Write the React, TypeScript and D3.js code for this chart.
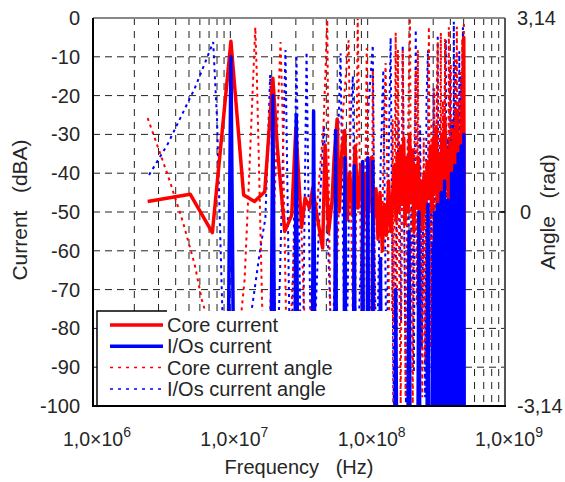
import { useEffect, useRef } from "react";
import * as d3 from "d3";

// frequency in MHz, current in dBA
const coreCurrent: [number, number][] = [
  [2.5, -47.3], [5.1, -45.4], [7.4, -55.3], [10.1, -6], [12.5, -45.6], [15, -47.3],
  [17.8, -44.8], [20.4, -15.5], [22, -33.5], [24.9, -55], [28, -50.8], [30, -28.4],
  [33, -54], [35, -46.4], [37.7, -49], [39.8, -43.8], [43, -51.5], [47, -59.3],
  [49, -32.7], [52, -55], [55, -47.3], [57, -36], [60, -26], [62, -50], [65, -34],
  [68, -29], [71, -52], [74, -40], [78, -51], [81, -33], [85, -49], [89, -38],
  [93, -54], [97, -40], [102, -50], [106, -36], [110, -52], [115, -44], [119, -57],
  [123, -45], [128, -60], [132, -48], [137, -56], [142, -42], [147, -55], [152, -46],
  [157, -38], [161, -52], [165, -35], [169, -50], [174, -33], [178, -48], [183, -31],
  [187, -53], [192, -36], [197, -50], [202, -30], [207, -47], [212, -34], [217, -55],
  [222, -38], [228, -49], [234, -36], [240, -52], [246, -42], [252, -54], [258, -40],
  [265, -50], [272, -37], [279, -46], [286, -33], [293, -50], [300, -31], [307, -45],
  [315, -28], [323, -48], [331, -35], [339, -52], [347, -30], [356, -47], [365, -26],
  [374, -44], [383, -34], [392, -55], [402, -32], [412, -48], [422, -29], [432, -45],
  [443, -24], [454, -42], [465, -30], [476, -46], [488, -22], [497, -40], [501, -5],
  [504, -60],
];

// deep nulls fall below the -100 dBA floor
const ioCurrent: [number, number][] = [
  [9.5, -115], [10.1, -10], [10.7, -115],
  [19.6, -115], [20.4, -20], [21.2, -115],
  [29.3, -115], [30.2, -25], [31.1, -115],
  [39.3, -115], [40.4, -24], [41.5, -115],
  [57.3, -115], [58.4, -29], [59.5, -115],
  [67.1, -115], [68.3, -36], [69.5, -115],
  [78.5, -115], [79.8, -38], [81.1, -115],
  [90.6, -115], [92, -37], [93.4, -115],
  [98.8, -115], [100.3, -36], [101.8, -115],
  [107.5, -115], [109, -37], [110.5, -115],
  [122, -115], [124, -62], [126, -115],
  [157, -115], [160, -70], [163, -115],
  [196, -115], [200, -55], [204, -115],
  [232, -115], [236, -50], [240, -115],
  [270, -115], [275, -48], [280, -115],
  [296, -115], [300, -58], [304, -115], [308, -50], [312, -115], [316, -62],
  [320, -115], [324, -48], [328, -115], [333, -56], [338, -115], [343, -45],
  [348, -115], [353, -60], [358, -115], [363, -42], [368, -115], [373, -55],
  [378, -115], [384, -47], [390, -115], [396, -58], [402, -115], [408, -40],
  [414, -115], [420, -52], [426, -115], [432, -38], [438, -115], [444, -50],
  [450, -115], [456, -35], [462, -115], [468, -48], [474, -115], [480, -33],
  [486, -115], [492, -45], [498, -115], [502, -30], [505, -115],
];

// frequency in MHz, angle in rad
const coreAngle: [number, number][] = [
  [2.5, 1.52], [3.5, 0.6], [4.5, -0.15], [5.5, -0.85], [6.2, -1.42], [7.4, -2.0],
  [8.7, -2.6], [9.6, -3.05], [10.6, -2.5], [11.7, -1.9], [12.7, -1.1], [13.6, 0.4],
  [14.5, 1.9], [15.2, 2.99], [15.6, 2.2], [16.3, 0.4], [17.0, -1.4], [17.8, -3.0],
  [19.0, -2.2], [20.5, -0.4], [21.8, 1.2], [23.2, 2.75], [24.0, 1.6], [24.8, -0.3],
  [25.5, -1.8], [26.2, -3.0], [27.5, -1.9], [29, -0.6], [30.8, 0.9], [32.4, 0.2],
  [34, -1.2], [36, -2.7], [38.5, -1.6], [41.7, -0.2], [45.4, 0.8], [47.7, 1.4],
  [50.8, 3.11], [52, 0.5], [53.7, -2.0], [55, -3.1], [58.4, -1.5], [62, 0.2],
  [66, 1.6], [72.7, 2.78], [75, 0.6], [78, -1.7], [80, -3.1], [82, -0.5],
  [84.6, 3.14], [87, 1.2], [90, -1.5], [92, -3.1], [95, -0.8], [98.4, 2.65],
  [101, 0.8], [104, -1.6], [106, -3.1], [109, 2.3], [112, -0.5], [114, -3.0],
  [124, -1.5], [135, 2.41], [140, 0.2], [145, -2.5], [150, -3.1], [152, 1.5],
  [155, -1.8], [160, 2.9], [163, -2.0], [166, 2.62], [170, -1.0], [174, -3.1],
  [180, 2.62], [185, -0.5], [189, -3.0], [196, 1.0], [203, 3.14], [208, -1.0],
  [213, -3.1], [218, 0.8], [224, 2.3], [228, -1.5], [232, 2.62], [238, -2.8],
  [244, 0.5], [250, -3.0], [256, 1.2], [262, -2.4], [268, 0.8], [273, -3.1],
  [279, 3.0], [285, -2.2], [291, 1.5], [298, -3.0], [305, 2.0], [311, -1.5],
  [317, 1.0], [324, 2.75], [330, -2.5], [336, 0.5], [341, 2.9], [347, -3.0],
  [353, 1.8], [360, -1.5], [366, 2.8], [371, -2.6], [377, 0.8], [383, -3.0],
  [390, 2.99], [396, -1.2], [403, 2.4], [410, -2.8], [417, 1.5], [424, -3.1],
  [431, 2.5], [439, -0.5], [446, 3.0], [453, -2.5], [460, 1.8], [467, -3.0],
  [474, 2.3], [481, -1.8], [488, 2.8], [495, -2.4], [502, 3.1],
];

const ioAngle: [number, number][] = [
  [2.56, 0.6], [3.5, 1.1], [4.5, 1.6], [5.5, 2.0], [6.5, 2.4], [7.5, 2.75],
  [8.0, 1.5], [8.4, -0.2], [8.8, -1.8], [9.2, -3.1], [11, -2.6], [13, -2.1],
  [14.5, -1.5], [16.5, -0.6], [18, -0.1], [18.7, 1.0], [19.5, 2.22], [20.3, 0.5],
  [21, -1.5], [21.7, -3.0], [23, -1.0], [24.2, 1.0], [25.2, 2.62], [26, 0.5],
  [27, -2.0], [27.6, -3.0], [28.8, -0.8], [30.3, 2.54], [31.4, 0.3], [32.5, -2.2],
  [33.5, -3.1], [34.8, 0.2], [35.9, 2.59], [37, 0.4], [38.4, -1.9], [39.5, -3.0],
  [42, -1.5], [45, 0.2], [48, 1.4], [52, -0.8], [55, -2.5], [58.4, -0.5], [61, 1.2],
  [63.5, 2.57], [65.5, 0.2], [68, -2.4], [69.5, -3.1], [72, -0.9], [75, 1.5],
  [78, 2.2], [80, -0.3], [83, -2.8], [88, -1.2], [95, 0.5], [102, 1.8], [109, 2.7],
  [112, -0.4], [116, -3.0], [120, -1.0], [125, 1.0], [130, 2.3], [134, -0.5],
  [138, -3.0], [142, 0.8], [147, 2.82], [151, -0.6], [155, -3.1], [160, -0.8],
  [168, 1.5], [175, -1.8], [180, 2.7], [185, -0.4], [190, -3.1], [196, 1.2],
  [203, -2.0], [210, 0.8], [217, -2.6], [224, 2.95], [229, -0.3], [235, -3.0],
  [241, 1.4], [248, -2.2], [255, 0.6], [262, -3.0], [268, 1.8], [275, 2.62],
  [281, -2.6], [288, 0.5], [295, -3.0], [302, 2.0], [309, -2.0], [316, 1.0],
  [324, 2.87], [330, -3.0], [336, 1.5], [343, -2.4], [350, 0.9], [357, -3.1],
  [364, 2.0], [371, 2.78], [377, -2.8], [384, 1.2], [391, -3.0], [398, 2.3],
  [405, -2.0], [412, 1.5], [418, -3.1], [424, 3.08], [430, -2.2], [437, 2.4],
  [444, -3.0], [451, 1.8], [458, -2.6], [465, 2.6], [472, -3.1], [480, 2.2],
  [487, -2.5], [494, 2.99], [500, -3.0], [504, 2.5],
];

const xTicks = [1e6, 1e7, 1e8, 1e9];
const xTickExp = ["6", "7", "8", "9"];
const yTicks = [0, -10, -20, -30, -40, -50, -60, -70, -80, -90, -100];
const angleTicks = [3.14, 0, -3.14];
const angleTickLabels = ["3,14", "0", "-3,14"];
const legendLabels = ["Core current", "I/Os current", "Core current angle", "I/Os current angle"];

const W = 565;
const H = 482;
const FONT = "'Liberation Sans', Arial, sans-serif";
const TXT = "#262626";

export default function App() {
  const svgRef = useRef<SVGSVGElement>(null);

  useEffect(() => {
    if (!svgRef.current) return;
    const svg = d3.select(svgRef.current);
    svg.selectAll("*").remove();

    const left = 93, right = 505, top = 18, bottom = 406;
    const x = d3.scaleLog().domain([1e6, 1e9]).range([left, right]);
    const y = d3.scaleLinear().domain([-100, 0]).range([bottom, top]);
    const ya = d3.scaleLinear().domain([-3.14, 3.14]).range([bottom, top]);

    // grid
    const minor: number[] = [];
    for (let e = 6; e < 9; e++) {
      for (let m = 1; m < 10; m++) {
        if (e === 6 && m === 1) continue;
        minor.push(m * Math.pow(10, e));
      }
    }
    svg.append("g").selectAll("line").data(minor).join("line")
      .attr("x1", d => x(d)).attr("x2", d => x(d))
      .attr("y1", top).attr("y2", bottom)
      .attr("stroke", "#222").attr("stroke-width", 1)
      .attr("stroke-dasharray", "7,6");
    svg.append("g").selectAll("line").data(yTicks.slice(1, -1)).join("line")
      .attr("x1", left).attr("x2", right)
      .attr("y1", d => y(d)).attr("y2", d => y(d))
      .attr("stroke", "#222").attr("stroke-width", 1)
      .attr("stroke-dasharray", "7,5");

    // data
    svg.append("defs").append("clipPath").attr("id", "plotClip")
      .append("rect").attr("x", left).attr("y", top)
      .attr("width", right - left).attr("height", bottom - top);
    const g = svg.append("g").attr("clip-path", "url(#plotClip)");

    const dbLine = d3.line<[number, number]>().x(d => x(d[0] * 1e6)).y(d => y(d[1]));
    const radLine = d3.line<[number, number]>().x(d => x(d[0] * 1e6)).y(d => ya(d[1]));

    g.append("path").attr("d", radLine(ioAngle))
      .attr("fill", "none").attr("stroke", "#0000ff").attr("stroke-width", 2)
      .attr("stroke-dasharray", "3,4");
    g.append("path").attr("d", radLine(coreAngle))
      .attr("fill", "none").attr("stroke", "#ff0000").attr("stroke-width", 2)
      .attr("stroke-dasharray", "3,4");
    g.append("path").attr("d", dbLine(coreCurrent))
      .attr("fill", "none").attr("stroke", "#ff0000").attr("stroke-width", 3.5)
      .attr("stroke-linejoin", "round");
    g.append("path").attr("d", dbLine(ioCurrent))
      .attr("fill", "none").attr("stroke", "#0000ff").attr("stroke-width", 3.5)
      .attr("stroke-linejoin", "round");

    // frame
    svg.append("line").attr("x1", left).attr("x2", right).attr("y1", top).attr("y2", top)
      .attr("stroke", "#888").attr("stroke-width", 2);
    svg.append("line").attr("x1", right).attr("x2", right).attr("y1", top).attr("y2", bottom)
      .attr("stroke", "#555").attr("stroke-width", 2);
    svg.append("line").attr("x1", left).attr("x2", left).attr("y1", top).attr("y2", bottom + 1)
      .attr("stroke", "#000").attr("stroke-width", 2);
    svg.append("line").attr("x1", left).attr("x2", right + 1).attr("y1", bottom).attr("y2", bottom)
      .attr("stroke", "#000").attr("stroke-width", 2);
    svg.append("line").attr("x1", right - 6).attr("x2", right).attr("y1", ya(0)).attr("y2", ya(0))
      .attr("stroke", "#000").attr("stroke-width", 1.5);

    // legend
    const lg = svg.append("g");
    lg.append("rect").attr("x", 97).attr("y", 311).attr("width", 295).attr("height", bottom - 311 - 1)
      .attr("fill", "#fff");
    lg.append("path").attr("d", `M97,${bottom}V311H167`).attr("fill", "none")
      .attr("stroke", "#000").attr("stroke-width", 1.5);
    const legendStyles = [
      { color: "#ff0000", width: 3.5, dash: null },
      { color: "#0000ff", width: 3.5, dash: null },
      { color: "#ff0000", width: 1.5, dash: "3,5" },
      { color: "#0000ff", width: 1.5, dash: "3,5" },
    ];
    legendLabels.forEach((label, i) => {
      const ly = 325 + i * 21.3;
      const s = legendStyles[i];
      const ln = lg.append("line").attr("x1", 110).attr("x2", 163).attr("y1", ly).attr("y2", ly)
        .attr("stroke", s.color).attr("stroke-width", s.width);
      if (s.dash) ln.attr("stroke-dasharray", s.dash);
      lg.append("text").attr("x", 167).attr("y", ly + 7)
        .attr("font-family", FONT).attr("font-size", 20).attr("fill", TXT)
        .text(label);
    });

    // left axis labels
    svg.append("g").selectAll("text").data(yTicks).join("text")
      .attr("x", 80).attr("y", d => y(d) + 7)
      .attr("text-anchor", "end")
      .attr("font-family", FONT).attr("font-size", 20).attr("fill", TXT)
      .text(d => `${d}`);

    // right axis labels
    svg.append("g").selectAll("text").data(angleTicks).join("text")
      .attr("x", (d, i) => (i === 1 ? 520 : 517)).attr("y", d => ya(d) + 7)
      .attr("font-family", FONT).attr("font-size", 20).attr("fill", TXT)
      .text((d, i) => angleTickLabels[i]);

    // bottom axis labels
    xTicks.forEach((t, i) => {
      const tx = svg.append("text").attr("x", x(t) - 30).attr("y", 446)
        .attr("font-family", FONT).attr("font-size", 19.5).attr("fill", TXT);
      tx.append("tspan").text("1,0\u00d710");
      tx.append("tspan").attr("dy", -9.5).attr("font-size", 14).text(xTickExp[i]);
    });

    // axis titles
    svg.append("text").attr("x", 299).attr("y", 474).attr("text-anchor", "middle")
      .attr("font-family", FONT).attr("font-size", 20).attr("fill", TXT)
      .style("white-space", "pre").text("Frequency   (Hz)");
    svg.append("text").attr("transform", "translate(27,210) rotate(-90)").attr("text-anchor", "middle")
      .attr("font-family", FONT).attr("font-size", 21).attr("fill", TXT)
      .style("white-space", "pre").text("Current   (dBA)");
    svg.append("text").attr("transform", "translate(555,212) rotate(-90)").attr("text-anchor", "middle")
      .attr("font-family", FONT).attr("font-size", 21).attr("fill", TXT)
      .style("white-space", "pre").text("Angle   (rad)");
  }, []);

  return (
    <svg ref={svgRef} width={W} height={H}
      style={{ position: "absolute", left: 0, top: 0, background: "#fff" }} />
  );
}
